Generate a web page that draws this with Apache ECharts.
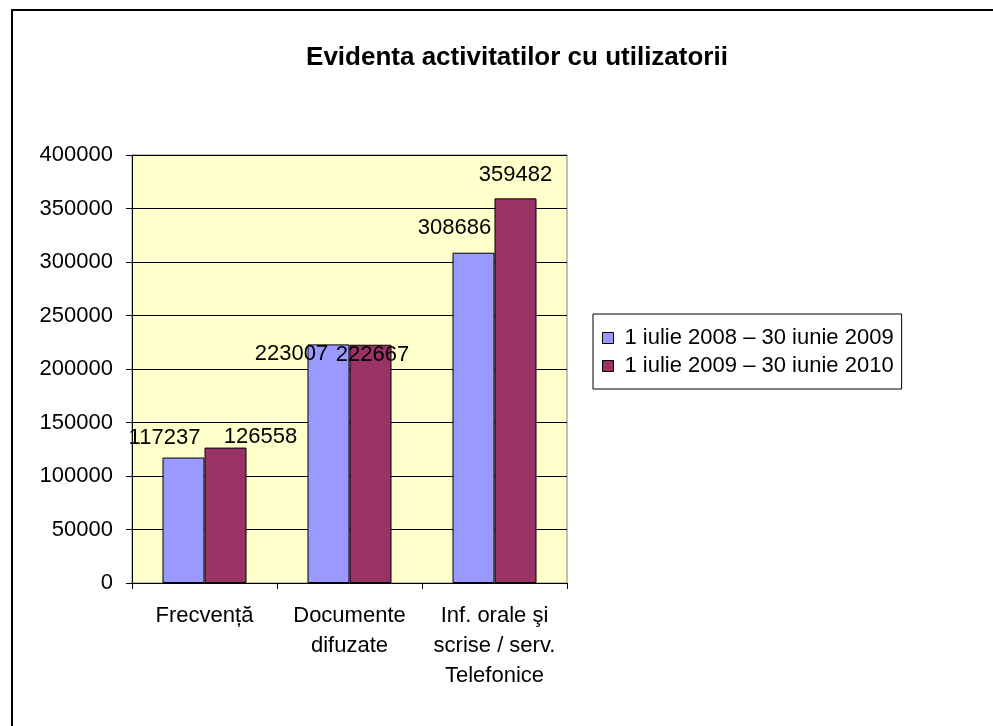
<!DOCTYPE html>
<html>
<head>
<meta charset="utf-8">
<script src="https://cdn.jsdelivr.net/npm/echarts@6/dist/echarts.min.js"></script>
<style>
  html, body { margin: 0; padding: 0; background: #fff; }
  #chart { width: 993px; height: 726px; }
</style>
</head>
<body>
<div id="chart"></div>
<script>
  const categories = ['Frecvență', 'Documente\ndifuzate', 'Inf. orale şi\nscrise / serv.\nTelefonice']
  const seriesNames = ['1 iulie 2008 – 30 iunie 2009', '1 iulie 2009 – 30 iunie 2010']
  const values2009 = [117237, 223007, 308686]
  const values2010 = [126558, 222667, 359482]

  // label nudges, the original labels were dragged around by hand
  const shift2009 = [[-19, -9], [-37, 21], [-19, -14]]
  const shift2010 = [[35, 0], [2, 21], [0, -12]]

  const font = 'Arial, "Liberation Sans", sans-serif'
  const fs = 22

  function items(vals, shifts) {
    return vals.map((v, i) => ({
      value: v,
      label: { offset: shifts[i] }
    }))
  }

  const chart = echarts.init(document.getElementById('chart'))
  const option = {
    animation: false,
    textStyle: { fontFamily: font },
    title: {
      text: 'Evidenta activitatilor cu utilizatorii',
      left: 512,
      top: 40,
      textAlign: 'center',
      textStyle: { fontFamily: font, fontSize: 26, fontWeight: 'bold', color: '#000' }
    },
    graphic: [{
      type: 'rect',
      shape: { x: 12, y: 10, width: 1100, height: 900 },
      style: { fill: 'none', stroke: '#000', lineWidth: 2 },
      silent: true
    }],
    legend: {
      orient: 'vertical',
      left: 593,
      top: 314,
      padding: [12, 8, 11, 9],
      itemGap: 4,
      itemWidth: 11,
      itemHeight: 11,
      icon: 'rect',
      borderColor: '#000',
      borderWidth: 1,
      itemStyle: { borderColor: '#000', borderWidth: 1 },
      textStyle: { fontFamily: font, fontSize: fs, color: '#000', lineHeight: 24, padding: [0, 0, 0, 6] },
      data: seriesNames
    },
    grid: {
      left: 132,
      top: 155,
      width: 435,
      height: 428,
      show: true,
      backgroundColor: '#FFFFCC',
      borderColor: '#808080',
      borderWidth: 1
    },
    xAxis: {
      type: 'category',
      data: categories,
      axisLine: { lineStyle: { color: '#000', width: 1 } },
      axisTick: { show: true, length: 6, lineStyle: { color: '#000' } },
      axisLabel: {
        color: '#000',
        fontFamily: font,
        fontSize: fs,
        lineHeight: 30,
        margin: 18,
        interval: 0
      }
    },
    yAxis: {
      type: 'value',
      min: 0,
      max: 400000,
      interval: 50000,
      axisLine: { show: true, lineStyle: { color: '#000', width: 1 } },
      axisTick: { show: true, length: 6, lineStyle: { color: '#000' } },
      splitLine: { lineStyle: { color: '#000', width: 1 } },
      axisLabel: { color: '#000', fontFamily: font, fontSize: fs, margin: 19, formatter: v => String(v) }
    },
    series: [{
        name: seriesNames[0],
        type: 'bar',
        data: items(values2009, shift2009),
        barWidth: 42,
        barGap: '0%',
        itemStyle: { color: '#9999FF', borderColor: '#000', borderWidth: 1 },
        label: { show: true, position: 'top', distance: 0, color: '#000', fontFamily: font, fontSize: fs }
      },
      {
        name: seriesNames[1],
        type: 'bar',
        data: items(values2010, shift2010),
        barWidth: 42,
        barGap: '0%',
        itemStyle: { color: '#993366', borderColor: '#000', borderWidth: 1 },
        label: { show: true, position: 'top', distance: 0, color: '#000', fontFamily: font, fontSize: fs }
      }
    ]
  }
  chart.setOption(option)
</script>
</body>
</html>
